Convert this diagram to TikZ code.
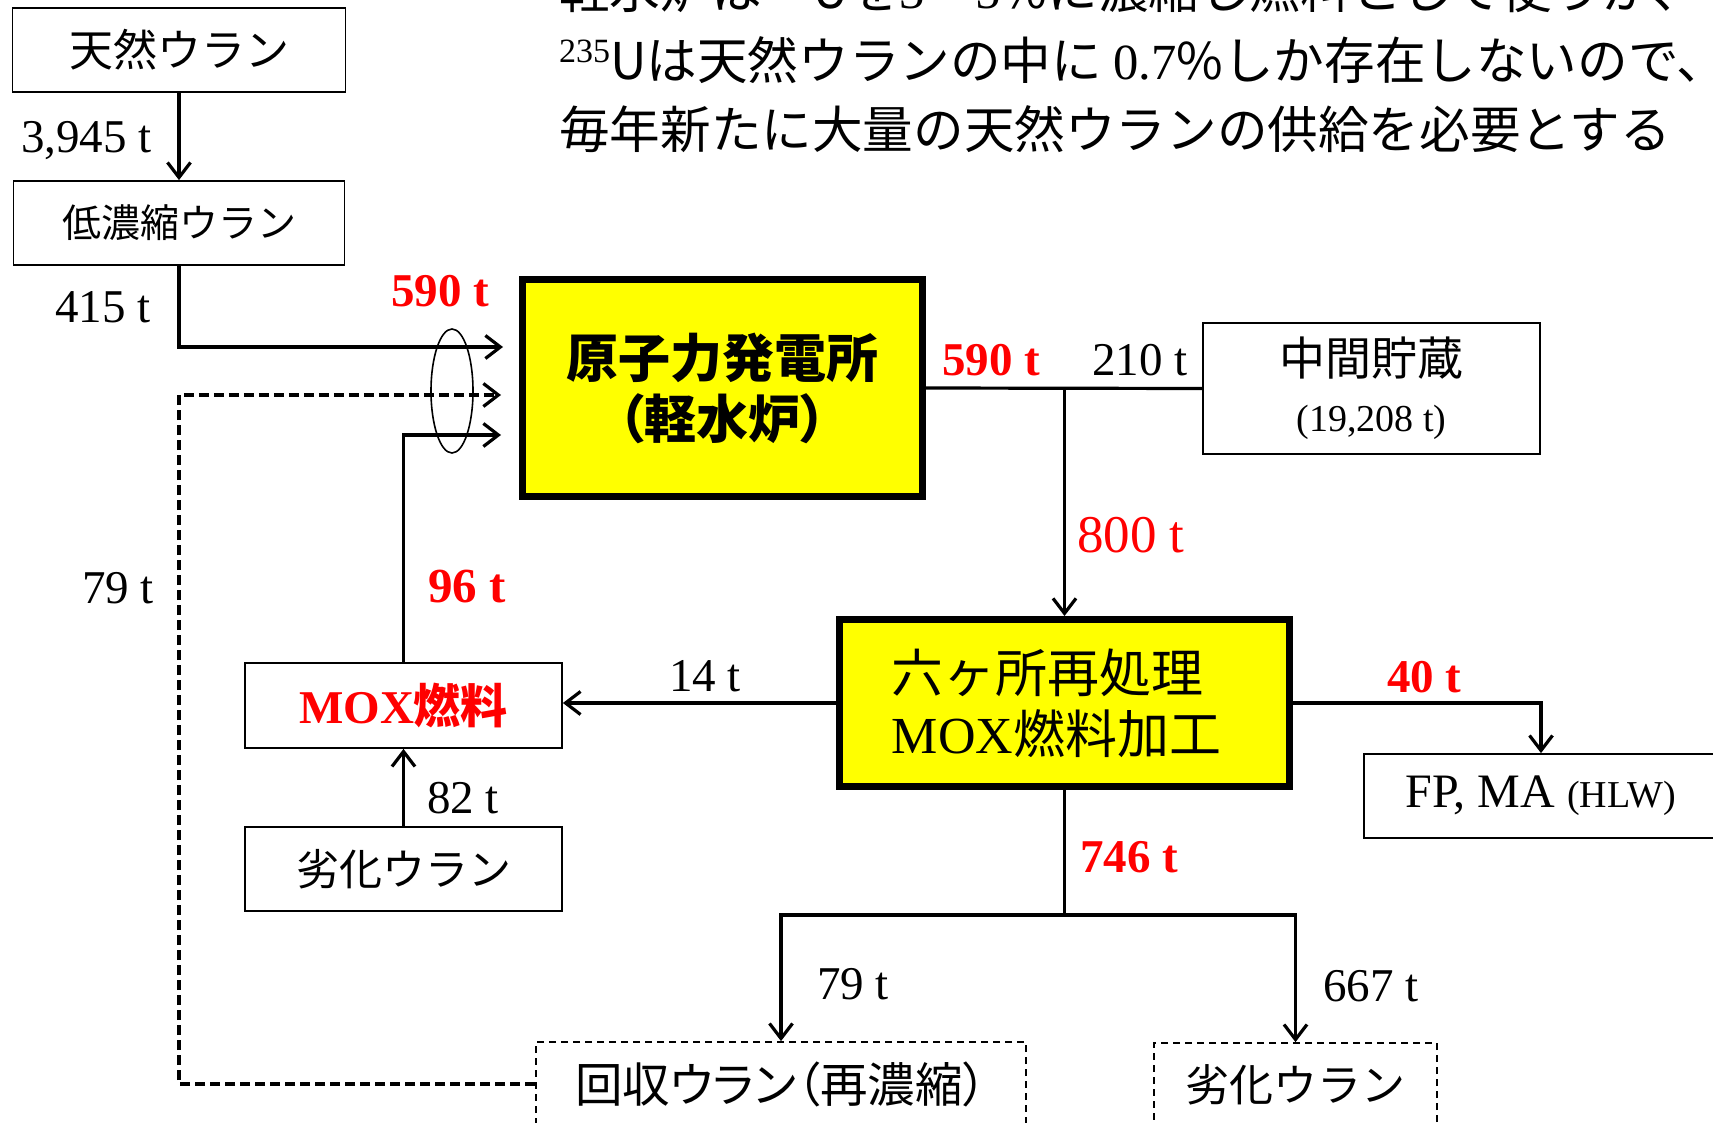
\documentclass[tikz,border=0pt]{standalone}
\usepackage{fontspec}
\setmainfont{Liberation Serif}
\newfontfamily\jp{Noto Sans CJK JP}
\newfontfamily\jpp{Noto Sans CJK JP}[RawFeature=+palt]
\usetikzlibrary{arrows.meta}
\definecolor{myred}{RGB}{255,0,0}
\definecolor{myyellow}{RGB}{255,255,0}
\newcommand\fsz[1]{\fontsize{#1}{#1}\selectfont}
\tikzset{
  box/.style={draw, line width=1.8pt, inner sep=0pt, align=center},
  ybox/.style={draw, line width=7pt, fill=myyellow, inner sep=0pt, align=center},
  dbox/.style={draw, line width=1.8pt, dash pattern=on 7pt off 5pt, inner sep=0pt, align=center},
  conn/.style={line width=3.2pt},
  dconn/.style={line width=3.2pt, dash pattern=on 10pt off 5pt},
  arr/.style={-{Straight Barb[length=15pt,width=23pt]}},
  lbl/.style={anchor=base west, inner sep=0pt, font=\fsz{47}},
  rlbl/.style={anchor=base west, inner sep=0pt, text=myred, font=\fsz{47}\bfseries},
  para/.style={anchor=base west, inner sep=0pt, font=\jp\fsz{50.6}}
}
\begin{document}
\begin{tikzpicture}[x=1pt,y=-1pt]
\useasboundingbox (0,0) rectangle (1713,1123);
\clip (0,0) rectangle (1713,1123);

% paragraph
\node[para] (p1) at (559,9) {軽水炉は{\rmfamily\fsz{34}\raisebox{17pt}{235}}Uを{\rmfamily 3}～{\rmfamily 5}\%に濃縮し燃料として使うが、};
\node[para] (p2) at (559,80) {{\rmfamily\fsz{34}\raisebox{17pt}{235}}Uは天然ウランの中に {\rmfamily 0.7}\%しか存在しないので、};
\node[para] (p3) at (559,149) {毎年新たに大量の天然ウランの供給を必要とする};

% boxes
\node[box, minimum width=333pt, minimum height=84pt, font=\jp\fsz{44}] (nat) at (179,50) {天然ウラン};
\node[box, minimum width=331pt, minimum height=84pt, font=\jp\fsz{39}] (low) at (179,223) {低濃縮ウラン};
\node[ybox, minimum width=400pt, minimum height=217pt, font=\jpp\bfseries\fontsize{52}{61}\selectfont] (lwr) at (722.5,388) {原子力発電所\\（軽水炉）};
\node[box, minimum width=337pt, minimum height=131pt, font=\fontsize{46}{56}\selectfont] (mid) at (1371.5,388.5) {{\jp 中間貯蔵}\\{\fontsize{38}{56}\selectfont (19,208 t)}};
\node[ybox, minimum width=450pt, minimum height=167pt, align=left, font=\fontsize{52}{61}\selectfont] (rep) at (1064.5,703) {{\jp 六ヶ所再処理}\\MOX{\jp 燃料加工}\hspace*{16pt}};
\node[box, minimum width=317pt, minimum height=85pt, text=myred, font=\fsz{47}\bfseries] (mox) at (403.5,705.5) {MOX{\jp 燃料}};
\node[box, minimum width=317pt, minimum height=84pt, font=\jp\fsz{43}] (dep1) at (403.5,869) {劣化ウラン};
\node[box, minimum width=354pt, minimum height=84pt] (fp) at (1541,796) {{\fsz{48}FP, MA }{\fsz{38}(HLW)}};
\node[dbox, minimum width=490pt, minimum height=84pt, font=\jpp\fsz{47.5}] (rec) at (781,1084) {回収ウラン（再濃縮）};
\node[dbox, minimum width=283pt, minimum height=84pt, font=\jp\fsz{44}] (dep2) at (1295.5,1085) {劣化ウラン};

% entry points into the reactor
\coordinate (in1) at (503,347);
\coordinate (in2) at (501,395);
\coordinate (in3) at (501,435);
\coordinate (j1) at (1064.5,388);
\coordinate (j2) at (1064.5,915);

% ellipse
\draw[line width=1.6pt] (452,391) ellipse [x radius=21, y radius=62];

% connectors
\draw[conn, arr] (nat.south) -- (low.north);
\draw[conn, arr] (low.south) |- (in1);
\draw[dconn, arr] (rec.west) -| (in2 -| low.south) -- (in2);
\draw[conn, arr] (mox.north) |- (in3);
\draw[conn] (lwr.east) -- (mid.west);
\draw[conn, arr] (j1) -- (j1 |- rep.north);
\draw[conn, arr] (rep.west) -- (rep.west -| mox.east);
\draw[conn, arr] (dep1.north) -- (mox.south);
\draw[conn, arr] (rep.east) -| (fp.north);
\draw[conn] (j2 |- rep.south) -- (j2);
\draw[conn, arr] (j2) -| (rec.north);
\draw[conn, arr] (j2) -| (dep2.north);

% labels
\node[lbl] (l3945) at (21,153) {3,945 t};
\node[lbl] (l415) at (55,323) {415 t};
\node[rlbl] (l590a) at (391,307) {590 t};
\node[rlbl] (l590b) at (942,375) {590 t};
\node[lbl] (l210) at (1092,375) {210 t};
\node[lbl, text=myred, font=\fsz{53}] (l800) at (1077,552) {800 t};
\node[lbl] (l79a) at (82,603) {79 t};
\node[rlbl, font=\fsz{49}\bfseries] (l96) at (428,602) {96 t};
\node[lbl] (l14) at (669,691) {14 t};
\node[lbl] (l82) at (427,813) {82 t};
\node[rlbl] (l40) at (1387,692) {40 t};
\node[rlbl] (l746) at (1080,872) {746 t};
\node[lbl] (l79b) at (817,999) {79 t};
\node[lbl] (l667) at (1323,1001) {667 t};
\end{tikzpicture}
\end{document}
